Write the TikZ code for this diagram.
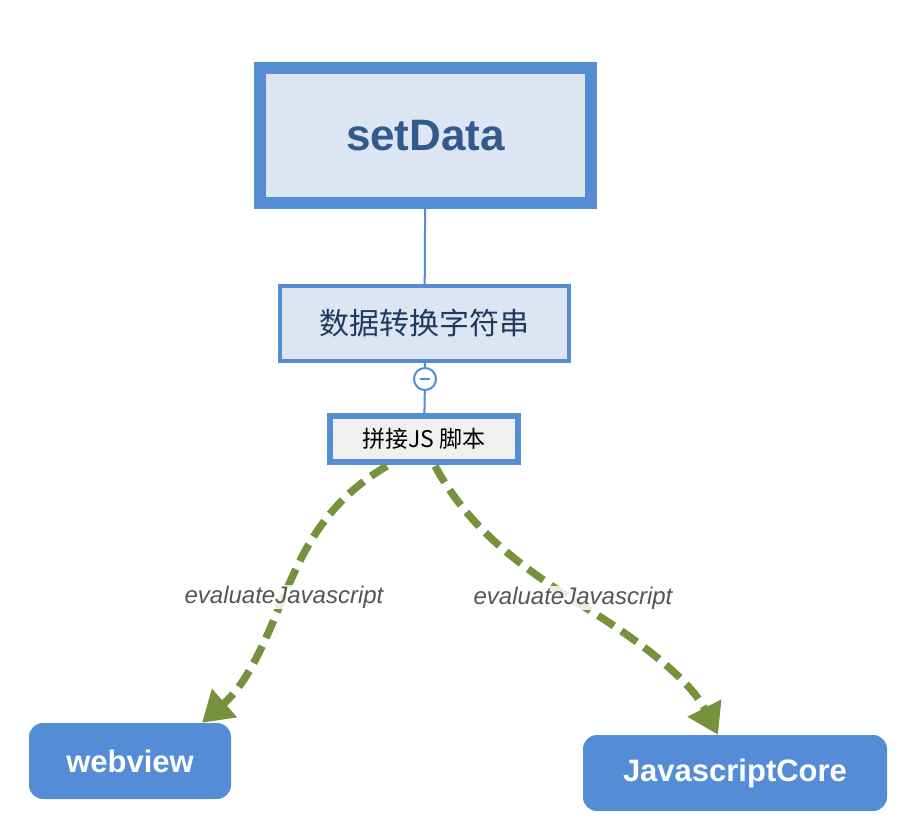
\documentclass[tikz,border=0pt]{standalone}
\usepackage{fontspec}
\setmainfont{Liberation Sans}
\newfontfamily\cjk{Noto Sans CJK SC}
\usetikzlibrary{arrows.meta}
\definecolor{boxblue}{RGB}{84,141,212}
\definecolor{boxfill}{RGB}{220,230,242}
\definecolor{titletext}{RGB}{50,90,140}
\definecolor{midtext}{RGB}{30,58,95}
\definecolor{jsfill}{RGB}{240,240,240}
\definecolor{nodeblue}{RGB}{84,141,214}
\definecolor{flowgreen}{RGB}{118,146,60}
\definecolor{lbltext}{RGB}{85,85,85}
\begin{document}
\begin{tikzpicture}[x=1pt,y=-1pt,
  mainbox/.style={draw=boxblue,line width=12pt,fill=boxfill,minimum width=331pt,minimum height=135pt,
    font=\fontsize{44}{50}\selectfont\bfseries,text=titletext,inner sep=0pt},
  midbox/.style={draw=boxblue,line width=4pt,fill=boxfill,minimum width=289pt,minimum height=75pt,
    font=\cjk\fontsize{30}{36}\selectfont,text=midtext,inner sep=0pt},
  jsbox/.style={draw=boxblue,line width=6pt,fill=jsfill,minimum width=188pt,minimum height=46pt,
    font=\cjk\fontsize{23}{27}\selectfont,text=black,inner sep=0pt},
  endbox/.style={fill=nodeblue,rounded corners=14pt,minimum height=76pt,
    font=\fontsize{31}{36}\selectfont\bfseries,text=white,inner sep=0pt},
  conn/.style={draw=boxblue,line width=2pt},
  togglec/.style={circle,draw=boxblue,line width=2pt,fill=white,minimum size=22pt,inner sep=0pt},
  flow/.style={draw=flowgreen,line width=7.5pt,dash pattern=on 19pt off 9pt,
    -{Triangle[length=30pt,width=36pt]}},
  lbl/.style={fill=white,fill opacity=0.85,text opacity=1,text=lbltext,
    font=\fontsize{24}{28}\selectfont\itshape,inner sep=1pt}
]
\useasboundingbox (0,0) rectangle (903,830);
\fill[white] (0,0) rectangle (903,830);

\node[mainbox] (setdata) at (425.5,135.5) {setData};
\node[midbox] (mid) at (424.5,323.5) {数据转换字符串};
\node[togglec] (minus) at (425,379) {};
\node[jsbox] (js) at (424,439) {拼接JS 脚本};
\node[endbox,minimum width=202pt] (webview) at (130,761) {webview};
\node[endbox,minimum width=304pt] (jscore) at (735,773) {JavascriptCore};

\draw[conn] (setdata) -- (mid);
\draw[conn] (mid) -- (minus);
\draw[conn] (minus) -- (js);
\draw[draw=boxblue,line width=2pt] ([xshift=-5pt]minus.center) -- ([xshift=5pt]minus.center);

\draw[flow] ([xshift=-37pt,yshift=-1pt]js.south) .. controls (320,505) and (300,560) .. (282,600)
  .. controls (262,650) and (245,685) .. ([xshift=72pt]webview.north);
\draw[flow] ([xshift=11pt,yshift=-1pt]js.south) .. controls (470,530) and (520,565) .. (573,600)
  .. controls (640,640) and (690,680) .. ([xshift=-17pt]jscore.north);

\node[lbl] (l1) at (284,597) {evaluateJavascript};
\node[lbl] (l2) at (573,598) {evaluateJavascript};
\end{tikzpicture}
\end{document}
